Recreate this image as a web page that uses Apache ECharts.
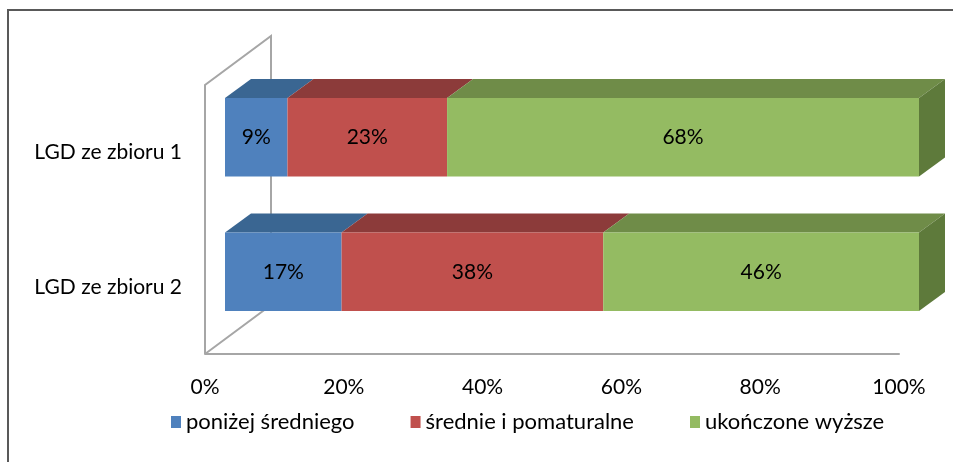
<!DOCTYPE html>
<html>
<head>
<meta charset="utf-8">
<script src="https://cdn.jsdelivr.net/npm/echarts@6/dist/echarts.min.js"></script>
<style>
  html, body { margin: 0; padding: 0; background: #fff; }
  #chart { width: 953px; height: 462px; }
</style>
</head>
<body>
<div id="chart"></div>
<script>
const categories = ['LGD ze zbioru 1', 'LGD ze zbioru 2'];
const seriesNames = ['poniżej średniego', 'średnie i pomaturalne', 'ukończone wyższe'];
const belowSecondary = [9, 16.8];
const secondary = [23, 37.7];
const higher = [68, 45.5];
const xTicks = [0, 20, 40, 60, 80, 100];

const values = [belowSecondary, secondary, higher];
const frontColors = ['#4f81bd', '#c0504d', '#94bb62'];
const topColors = ['#3a6692', '#8c3b3a', '#6f8c48'];
const sideColors = ['#33597f', '#7a3331', '#5e7a3b'];

// 3D depth of the bars and of the wall/floor frame
const depthX = 26, depthY = -19;
const shiftX = 20, shiftY = -15;
const wallX = 66, wallY = -49;

const chart = echarts.init(document.getElementById('chart'));

// cumulative starts for stacking
const starts = values.map((arr, s) =>
  arr.map((v, i) => values.slice(0, s).reduce((a, b) => a + b[i], 0))
);

function renderBar(sIdx) {
  return function (params, api) {
    const start = api.value(0);
    const end = api.value(1);
    const cat = api.value(2);
    const p0 = api.coord([start, cat]);
    const p1 = api.coord([end, cat]);
    const h = api.size([0, 1])[1] * 0.585;
    const x0 = p0[0] + shiftX, x1 = p1[0] + shiftX;
    const yt = p0[1] + shiftY - h / 2, yb = yt + h;
    const children = [
      {
        type: 'polygon',
        shape: { points: [[x0, yt], [x1, yt], [x1 + depthX, yt + depthY], [x0 + depthX, yt + depthY]] },
        style: { fill: topColors[sIdx] }
      },
      {
        type: 'rect',
        shape: { x: x0, y: yt, width: x1 - x0, height: h },
        style: { fill: frontColors[sIdx] }
      }
    ];
    if (end >= 99.9) {
      children.push({
        type: 'polygon',
        shape: { points: [[x1, yt], [x1 + depthX, yt + depthY], [x1 + depthX, yb + depthY], [x1, yb]] },
        style: { fill: sideColors[sIdx] }
      });
    }
    children.push({
      type: 'text',
      style: {
        x: (x0 + x1) / 2, y: yt + h / 2,
        text: Math.round(end - start) + '%',
        align: 'center', verticalAlign: 'middle',
        fill: '#000', font: '21px Lato'
      }
    });
    return { type: 'group', children: children };
  };
}

const barSeries = values.map((arr, s) => ({
  name: seriesNames[s],
  type: 'custom',
  z: 3,
  itemStyle: { color: frontColors[s] },
  renderItem: renderBar(s),
  encode: { x: [0, 1], y: 2 },
  data: arr.map((v, i) => [starts[s][i], starts[s][i] + v, i])
}));

// wall and floor outline
const frameSeries = {
  type: 'custom',
  z: 1,
  silent: true,
  renderItem: function (params, api) {
    const cs = params.coordSys;
    const bx = cs.x, by = cs.y + cs.height, ty = cs.y;
    return {
      type: 'polyline',
      shape: { points: [[bx, by], [bx, ty], [bx + wallX, ty + wallY], [bx + wallX, by + wallY], [bx, by]] },
      style: { stroke: '#a6a6a6', lineWidth: 2, fill: null }
    };
  },
  data: [[0, 0]]
};

const option = {
  animation: false,
  textStyle: { fontFamily: 'Lato' },
  graphic: [{
    type: 'rect',
    shape: { x: 8, y: 10, width: 1000, height: 500 },
    style: { fill: null, stroke: '#595959', lineWidth: 2 },
    silent: true
  }],
  grid: { left: 205, right: 54, top: 85, bottom: 108 },
  legend: {
    data: seriesNames,
    bottom: 24,
    left: 166,
    icon: 'rect',
    itemWidth: 10,
    itemHeight: 12,
    itemGap: 56,
    textStyle: { color: '#000', fontSize: 22, fontFamily: 'Lato' }
  },
  xAxis: {
    type: 'value',
    min: 0,
    max: 100,
    interval: 20,
    axisLine: { show: true, lineStyle: { color: '#a6a6a6', width: 2 } },
    axisTick: { show: false },
    splitLine: { show: false },
    axisLabel: {
      color: '#000', fontSize: 21, margin: 23,
      formatter: v => xTicks.includes(v) ? v + '%' : ''
    }
  },
  yAxis: {
    type: 'category',
    data: categories,
    inverse: true,
    axisLine: { show: false },
    axisTick: { show: false },
    axisLabel: { color: '#000', fontSize: 21, margin: 23, padding: [7, 0, 0, 0] }
  },
  series: [frameSeries].concat(barSeries)
};

chart.setOption(option);
</script>
</body>
</html>
